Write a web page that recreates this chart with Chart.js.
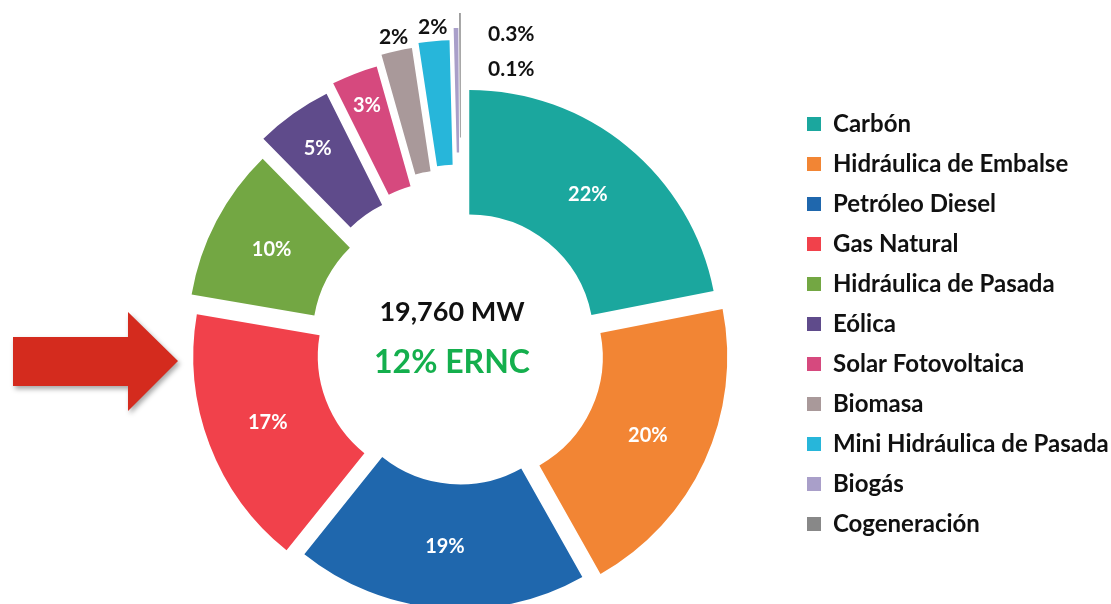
<!DOCTYPE html>
<html>
<head>
<meta charset="utf-8">
<script src="https://cdn.jsdelivr.net/npm/chart.js@4.4.0/dist/chart.umd.min.js"></script>
<style>
  html, body { margin: 0; background: #fff; }
  #wrap { width: 1111px; height: 604px; }
</style>
</head>
<body>
<div id="wrap"><canvas id="mix"></canvas></div>
<script>
// capacidad instalada por tecnología (%)
const categories = ['Carbón', 'Hidráulica de Embalse', 'Petróleo Diesel', 'Gas Natural',
  'Hidráulica de Pasada', 'Eólica', 'Solar Fotovoltaica', 'Biomasa',
  'Mini Hidráulica de Pasada', 'Biogás', 'Cogeneración'];
const shares = [22, 20, 19, 17, 10, 5, 3, 2, 2, 0.3, 0.1];
const totalLabel = '19,760 MW';
const erncLabel = '12% ERNC';

const colors = ['#1BA79E', '#F28534', '#1F67AD', '#F1414B', '#73A743', '#5F4B8B',
  '#D6497E', '#A9999A', '#27B6DA', '#A99FC9', '#888888'];
// how far each slice is pulled out of the ring (px)
const explode = [13, 19, 11, 20, 27, 40, 46, 56, 60, 72, 87];

// arc that is pushed out along its mid angle, without chart.js' offset shrinking
class ExplodedArc extends Chart.ArcElement {
  draw(ctx, area) {
    const i = this.$context ? this.$context.dataIndex : 0;
    const d = explode[i] || 0;
    const mid = (this.startAngle + this.endAngle) / 2;
    ctx.save();
    ctx.translate(Math.cos(mid) * d, Math.sin(mid) * d);
    super.draw(ctx, area);
    ctx.restore();
  }
}
ExplodedArc.id = 'explodedArc';

class ExplodedDoughnut extends Chart.DoughnutController {}
ExplodedDoughnut.id = 'explodedDoughnut';
ExplodedDoughnut.defaults = Object.assign({}, Chart.DoughnutController.defaults, { dataElementType: 'explodedArc' });
ExplodedDoughnut.overrides = Chart.DoughnutController.overrides;

Chart.register(ExplodedArc, ExplodedDoughnut);

const arrow = {
  id: 'arrow',
  afterDraw(chart) {
    const ctx = chart.ctx;
    ctx.save();
    ctx.shadowColor = 'rgba(0,0,0,0.35)';
    ctx.shadowBlur = 5;
    ctx.shadowOffsetX = 2;
    ctx.shadowOffsetY = 3;
    ctx.fillStyle = '#D42B1E';
    ctx.beginPath();
    ctx.moveTo(13, 337);
    ctx.lineTo(128, 337);
    ctx.lineTo(128, 312);
    ctx.lineTo(178, 361);
    ctx.lineTo(128, 411);
    ctx.lineTo(128, 386);
    ctx.lineTo(13, 386);
    ctx.closePath();
    ctx.fill();
    ctx.restore();
  }
};

const sliceLabels = {
  id: 'sliceLabels',
  afterDatasetsDraw(chart) {
    const ctx = chart.ctx;
    const arcs = chart.getDatasetMeta(0).data;
    ctx.save();
    ctx.textBaseline = 'middle';
    let tiny = 0, tinyY = 0;
    arcs.forEach((arc, i) => {
      const v = shares[i];
      const d = explode[i] || 0;
      const mid = (arc.startAngle + arc.endAngle) / 2;
      const cx = Math.cos(mid), cy = Math.sin(mid);
      const text = v + '%';
      if (v >= 3) {
        // narrow slices get their label nearer the outer edge
        const nudge = Math.max(0, 10 - v) * 4;
        const rr = (arc.innerRadius + arc.outerRadius) / 2 + d + nudge;
        ctx.font = '700 20px Lato';
        ctx.fillStyle = '#fff';
        ctx.textAlign = 'center';
        ctx.fillText(text, arc.x + cx * rr, arc.y + cy * rr);
      } else if (v >= 1) {
        const rr = arc.outerRadius + d + 14;
        ctx.font = '700 21px Lato';
        ctx.fillStyle = '#111';
        ctx.textAlign = 'center';
        ctx.fillText(text, arc.x + cx * rr, arc.y + cy * rr);
      } else {
        if (tiny === 0) tinyY = arc.y - (arc.outerRadius + d) + 6;
        ctx.font = '700 21px Lato';
        ctx.fillStyle = '#111';
        ctx.textAlign = 'left';
        ctx.fillText(text, arc.x + 27, tinyY + tiny * 35);
        tiny++;
      }
    });
    // centre text
    const c = arcs[0];
    ctx.textAlign = 'center';
    ctx.fillStyle = '#111';
    ctx.font = '700 27px Lato';
    ctx.fillText(totalLabel, c.x - 9, c.y - 37);
    ctx.fillStyle = '#14AF4D';
    ctx.font = '700 32px Lato';
    ctx.fillText(erncLabel, c.x - 9, c.y + 14);
    ctx.restore();
  }
};

new Chart(document.getElementById('mix'), {
  type: 'explodedDoughnut',
  data: {
    labels: categories,
    datasets: [{
      data: shares,
      backgroundColor: colors,
      borderWidth: 0,
      clip: false
    }]
  },
  options: {
    responsive: true,
    maintainAspectRatio: false,
    animation: false,
    radius: 249,
    cutout: '50%',
    layout: { padding: { left: 131, right: 0, top: 96, bottom: 2 } },
    plugins: {
      legend: {
        position: 'right',
        align: 'start',
        maxWidth: 320,
        labels: {
          boxWidth: 14,
          boxHeight: 14,
          padding: 16,
          color: '#111',
          font: { family: 'Lato', size: 24, weight: '700' }
        }
      },
      tooltip: { enabled: false }
    }
  },
  plugins: [arrow, sliceLabels]
});
</script>
</body>
</html>
